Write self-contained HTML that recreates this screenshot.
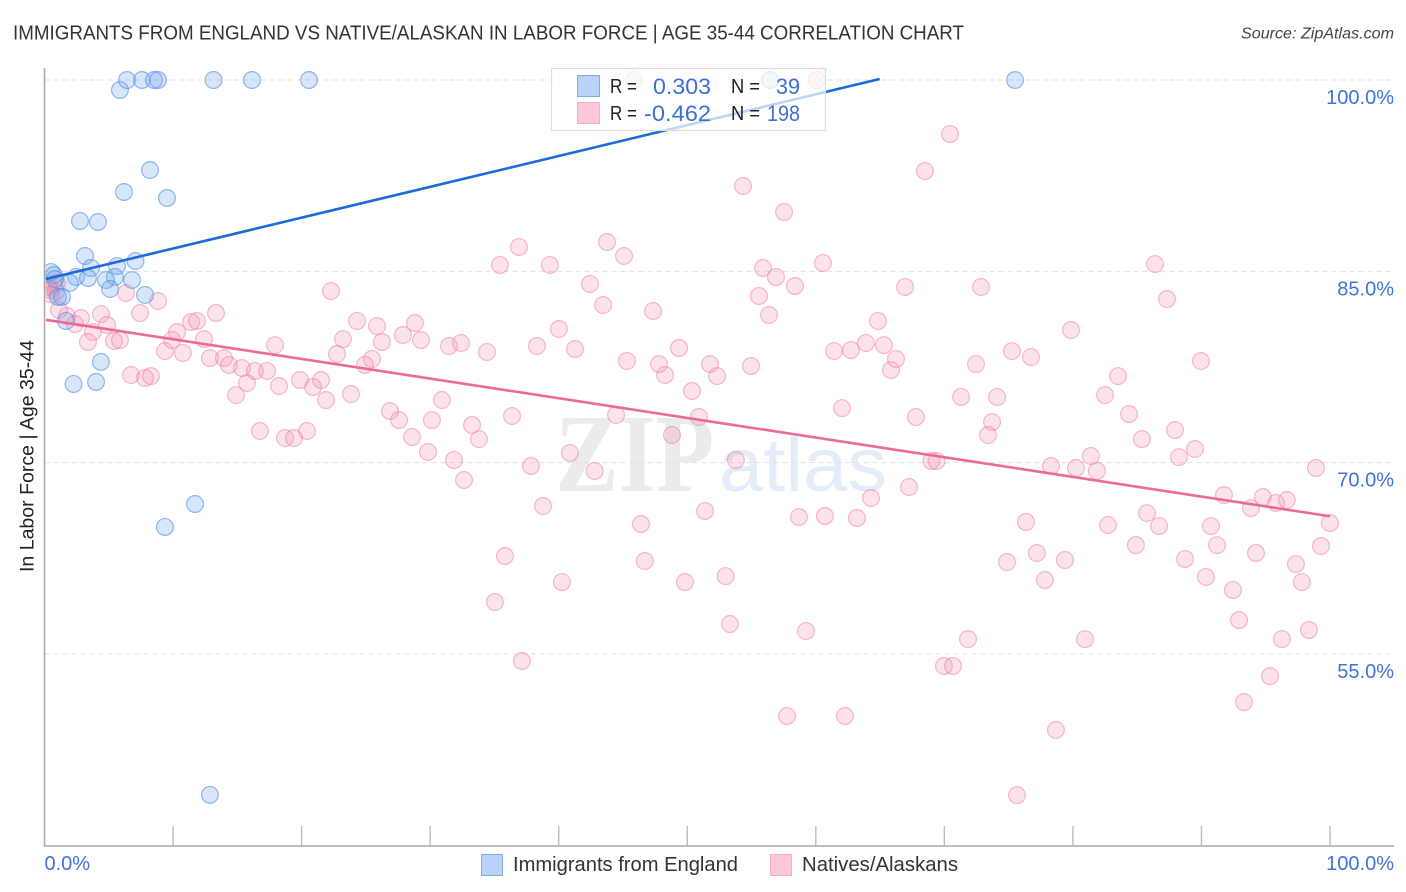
<!DOCTYPE html>
<html lang="en">
<head>
<meta charset="utf-8">
<title>Immigrants from England vs Native/Alaskan In Labor Force Correlation Chart</title>
<style>
html,body{margin:0;padding:0;background:#fff;}
svg{display:block;font-family:"Liberation Sans",sans-serif;}
</style>
</head>
<body>
<svg id="chart" xmlns="http://www.w3.org/2000/svg" width="1406" height="892" viewBox="0 0 1406 892">
  <defs>
    <clipPath id="plot-clip"><rect x="45.5" y="60" width="1350" height="786"/></clipPath>
  </defs>
  <text x="13" y="39.5" font-size="20" fill="#333" textLength="951" lengthAdjust="spacingAndGlyphs">IMMIGRANTS FROM ENGLAND VS NATIVE/ALASKAN IN LABOR FORCE | AGE 35-44 CORRELATION CHART</text>
  <text x="1241" y="38.5" font-size="15.5" font-style="italic" fill="#444" textLength="153" lengthAdjust="spacingAndGlyphs">Source: ZipAtlas.com</text>

  <g id="watermark">
    <text x="555" y="491" font-family="'Liberation Serif',serif" font-weight="bold" font-size="111" fill="#ebebeb" textLength="159" lengthAdjust="spacingAndGlyphs">ZIP</text>
    <text x="719" y="491" font-size="76" fill="#e3ecf9" textLength="168" lengthAdjust="spacingAndGlyphs">atlas</text>
  </g>

  <g id="grid"></g>
  <g id="axes"></g>
  <g id="pink-points" clip-path="url(#plot-clip)"></g>
  <g id="blue-points" clip-path="url(#plot-clip)"></g>
  <g id="trend-lines"></g>
  <g id="tick-labels"></g>

  <text transform="translate(33.5,456) rotate(-90)" text-anchor="middle" font-size="19" fill="#222" textLength="232" lengthAdjust="spacingAndGlyphs">In Labor Force | Age 35-44</text>

  <g>
    <rect x="551.5" y="68.5" width="274" height="62" fill="#fff" fill-opacity="0.72" stroke="#ddd" stroke-width="1.2"/>
    <rect x="577.5" y="75.5" width="22" height="21" fill="#b8d3f5" stroke="#7baeea" stroke-width="1"/>
    <rect x="577.5" y="102.5" width="22" height="21" fill="#fcc8d9" stroke="#f4abc4" stroke-width="1"/>
    <text x="610" y="93" font-size="20" fill="#222" textLength="27" lengthAdjust="spacingAndGlyphs">R =</text>
    <text x="653" y="94" font-size="22" fill="#3b6fd1" textLength="58" lengthAdjust="spacingAndGlyphs">0.303</text>
    <text x="731" y="93" font-size="20" fill="#222" textLength="29" lengthAdjust="spacingAndGlyphs">N =</text>
    <text x="776" y="94" font-size="22" fill="#3b6fd1" textLength="24" lengthAdjust="spacingAndGlyphs">39</text>
    <text x="610" y="120" font-size="20" fill="#222" textLength="27" lengthAdjust="spacingAndGlyphs">R =</text>
    <text x="644" y="121" font-size="22" fill="#3b6fd1" textLength="67" lengthAdjust="spacingAndGlyphs">-0.462</text>
    <text x="731" y="120" font-size="20" fill="#222" textLength="29" lengthAdjust="spacingAndGlyphs">N =</text>
    <text x="767" y="121" font-size="22" fill="#3b6fd1" textLength="33" lengthAdjust="spacingAndGlyphs">198</text>
  </g>

  <g>
    <rect x="481.5" y="854.5" width="21" height="21" fill="#b8d3f5" stroke="#7baeea" stroke-width="1"/>
    <text x="513" y="871" font-size="20" fill="#333" textLength="225" lengthAdjust="spacingAndGlyphs">Immigrants from England</text>
  </g>
  <g>
    <rect x="770.5" y="854.5" width="21" height="21" fill="#fcc8d9" stroke="#f4abc4" stroke-width="1"/>
    <text x="802" y="871" font-size="20" fill="#333" textLength="156" lengthAdjust="spacingAndGlyphs">Natives/Alaskans</text>
  </g>
</svg>
<script>
const yTickValues = [100, 85, 70, 55];
const yTickLabels = ["100.0%", "85.0%", "70.0%", "55.0%"];
const xTickValues = [10, 20, 30, 40, 50, 60, 70, 80, 90, 100];
const xEndValues = [0, 100];
const xEndLabels = ["0.0%", "100.0%"];

const immigrantsPoints = [
[5.87,99.22],[6.42,100],[7.58,100],[8.52,100],[8.83,100],[13.15,100],[16.14,100],[20.58,100],[56.44,100],[75.5,100],
[8.21,92.94],[6.18,91.22],[9.53,90.75],[2.76,88.95],[4.16,88.87],[3.15,86.2],[7.08,85.81],[5.64,85.42],[3.62,85.26],
[2.45,84.56],[3.38,84.48],[5.48,84.56],[4.78,84.32],[6.81,84.32],[5.1,83.62],[7.82,83.15],[1.98,84.09],[1.67,81.11],
[1.36,83.0],[1.05,83.0],[0.51,84.95],[0.74,84.71],[0.82,84.4],[4.39,77.9],[2.26,76.17],[4.01,76.33],[11.71,66.76],
[9.37,64.96],[12.87,43.96]
];

const nativesPoints = [
[45.86,100],[60.09,100],[70.44,95.77],[68.49,92.87],[54.34,91.69],[57.53,89.65],[36.91,86.91],[43.76,87.3],[45.08,86.2],
[35.43,85.5],[39.32,85.5],[55.89,85.26],[56.9,84.56],[60.56,85.65],[86.39,85.57],[42.43,84.01],[22.29,83.46],[58.38,83.85],
[66.94,83.77],[72.85,83.77],[55.58,83.07],[43.45,82.36],[87.32,82.83],[8.83,82.67],[6.34,83.3],[47.34,81.89],[56.36,81.58],
[13.34,81.73],[7.43,81.73],[4.4,81.65],[11.4,81.03],[11.86,81.11],[2.84,81.34],[1.75,81.5],[1.13,81.97],[64.84,81.11],
[24.31,81.11],[25.87,80.71],[28.82,80.95],[40.02,80.48],[79.85,80.4],[4.86,80.79],[2.37,80.87],[3.77,80.24],[10.31,80.24],
[23.22,79.69],[27.88,80.01],[26.25,79.46],[29.29,79.62],[31.47,79.15],[32.4,79.38],[38.31,79.15],[41.27,78.91],[49.36,78.99],
[63.9,79.38],[65.3,79.22],[62.74,78.83],[61.42,78.75],[17.93,79.22],[34.42,78.68],[75.26,78.75],[76.74,78.28],[3.38,79.46],
[5.41,79.54],[5.87,79.62],[9.92,79.62],[12.41,79.69],[9.37,78.75],[10.77,78.6],[22.75,78.52],[12.87,78.2],[13.96,78.2],
[25.48,78.13],[24.93,77.66],[45.31,77.97],[47.8,77.73],[51.77,77.73],[66.24,78.13],[72.46,77.73],[89.96,77.97],[54.96,77.58],
[65.85,77.26],[48.27,76.87],[52.32,76.79],[14.35,77.66],[15.36,77.42],[16.37,77.19],[17.31,77.19],[6.73,76.87],[7.82,76.64],
[8.28,76.79],[15.75,76.24],[18.24,76.01],[19.88,76.48],[21.51,76.48],[20.89,75.93],[21.9,74.91],[23.84,75.38],[50.37,75.62],
[83.51,76.79],[82.5,75.3],[71.3,75.15],[74.1,75.15],[14.9,75.3],[30.92,74.91],[26.88,74.05],[27.58,73.34],[36.37,73.66],
[44.46,73.74],[50.91,73.58],[62.04,74.28],[67.79,73.58],[84.37,73.81],[73.71,73.19],[16.76,72.48],[30.14,73.34],[33.26,72.95],
[33.8,71.85],[20.42,72.48],[18.71,71.93],[19.41,71.93],[28.59,72.01],[29.83,70.84],[48.81,72.17],[73.4,72.17],[85.37,71.85],
[87.94,72.56],[89.5,71.07],[88.25,70.44],[31.85,70.21],[40.88,70.76],[37.84,69.74],[42.8,69.35],[32.63,68.64],[53.78,70.21],
[69.0,70.13],[69.4,70.13],[78.3,69.74],[80.24,69.58],[81.87,69.35],[81.4,70.52],[98.91,69.58],[38.78,66.6],[67.25,68.09],
[64.29,67.23],[91.75,67.46],[93.85,66.44],[94.78,67.31],[95.8,66.84],[96.65,67.07],[51.38,66.21],[58.69,65.74],[60.71,65.82],
[63.2,65.66],[85.76,66.05],[46.4,65.19],[76.35,65.35],[82.73,65.11],[86.7,65.03],[90.74,65.03],[100,65.27],[35.82,62.68],
[46.7,62.29],[77.2,62.92],[84.9,63.54],[91.21,63.54],[94.24,62.92],[99.3,63.47],[79.38,62.37],[74.87,62.21],[88.72,62.45],
[97.35,62.05],[40.25,60.64],[49.82,60.64],[52.99,61.11],[77.82,60.8],[90.35,61.04],[92.45,60.02],[97.81,60.64],[35.04,59.08],
[53.32,57.35],[59.24,56.8],[92.92,57.66],[98.36,56.88],[37.14,54.45],[71.84,56.17],[80.94,56.17],[96.26,56.17],[69.97,54.06],
[70.67,54.06],[95.33,53.27],[57.76,50.14],[62.27,50.14],[93.31,51.24],[78.68,49.04],[75.65,43.94],[0.43,83.54],[0.66,84.01],
[0.89,83.38],[0.97,84.09],[0.3,83.8],[0.5,83.2]
];

const immigrantsTrendX = [0.12, 64.97];
const immigrantsTrendY = [84.4, 100.08];
const nativesTrendX = [0.12, 100];
const nativesTrendY = [81.2, 65.8];

const NS = "http://www.w3.org/2000/svg";
function xScale(v) { return 44.5 + v * 12.855; }
function yScale(v) { return 80 + (100 - v) * 12.756; }
function add(parent, tag, attrs) {
  const el = document.createElementNS(NS, tag);
  for (const k in attrs) el.setAttribute(k, attrs[k]);
  document.getElementById(parent).appendChild(el);
  return el;
}

yTickValues.forEach(function (v, i) {
  const g = add("grid", "line", {x1: 44.5, x2: 1394, y1: yScale(v), y2: yScale(v), stroke: "#e0e0e0", "stroke-width": 1, "stroke-dasharray": "5 4"});
  
  
  const t = add("tick-labels", "text", {x: 1394, y: yScale(v) + 24, "text-anchor": "end", "font-size": 20, fill: "#3f73d4"});
  
  
  t.textContent = yTickLabels[i];
});

const yAxisLine = add("axes", "line", {x1: 44.5, x2: 44.5, y1: 68, y2: 846, stroke: "#aaa", "stroke-width": 1.6});


const xAxisLine = add("axes", "line", {x1: 44, x2: 1394, y1: 846, y2: 846, stroke: "#aaa", "stroke-width": 1.6});



xTickValues.forEach(function (v) {
  const tick = add("axes", "line", {x1: xScale(v), x2: xScale(v), y1: 826, y2: 846, stroke: "#bbb", "stroke-width": 1.4});
  
  
});

xEndValues.forEach(function (v, i) {
  const anchor = i === 0 ? "start" : "end";
  const px = i === 0 ? xScale(v) : 1394;
  const t = add("tick-labels", "text", {x: px, y: 870, "text-anchor": anchor, "font-size": 20, fill: "#3f73d4"});
  
  
  t.textContent = xEndLabels[i];
});

nativesPoints.forEach(function (p) {
  const c = add("pink-points", "circle", {cx: xScale(p[0]), cy: yScale(p[1]), r: 8.4, fill: "#f48fb1", "fill-opacity": 0.25, stroke: "#ee7ba3", "stroke-opacity": 0.52, "stroke-width": 1.2});
  
  
});

immigrantsPoints.forEach(function (p) {
  const c = add("blue-points", "circle", {cx: xScale(p[0]), cy: yScale(p[1]), r: 8.4, fill: "#6ea6ea", "fill-opacity": 0.28, stroke: "#4f90e6", "stroke-opacity": 0.62, "stroke-width": 1.2});
  
  
});

const blueTrend = add("trend-lines", "line", {x1: xScale(immigrantsTrendX[0]), y1: yScale(immigrantsTrendY[0]), x2: xScale(immigrantsTrendX[1]), y2: yScale(immigrantsTrendY[1]), stroke: "#1d6ad8", "stroke-width": 2.6});


const pinkTrend = add("trend-lines", "line", {x1: xScale(nativesTrendX[0]), y1: yScale(nativesTrendY[0]), x2: xScale(nativesTrendX[1]), y2: yScale(nativesTrendY[1]), stroke: "#ec6a9a", "stroke-width": 2.6});


</script>
</body>
</html>
